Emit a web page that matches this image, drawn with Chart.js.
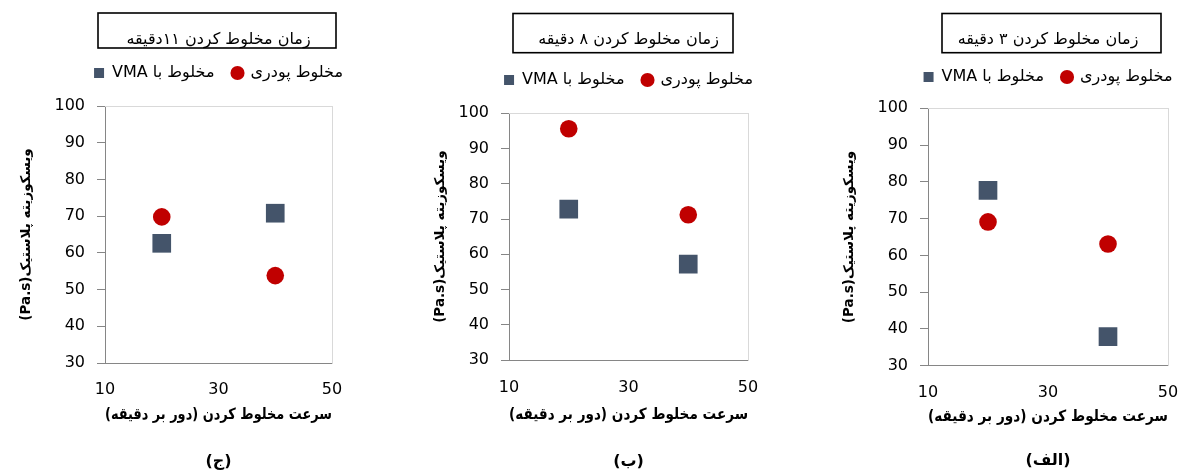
<!DOCTYPE html>
<html lang="fa">
<head>
<meta charset="utf-8">
<script src="https://cdn.jsdelivr.net/npm/chart.js@4.4.1/dist/chart.umd.min.js"></script>
<style>
html, body { margin:0; padding:0; background:#fff; width:1180px; height:472px; overflow:hidden; position:relative; }
canvas { position:absolute; top:0; direction: rtl; }
</style>
</head>
<body>
<canvas id="c11" width="437" height="472" style="left:0px"></canvas>
<canvas id="c8" width="457" height="472" style="left:400px"></canvas>
<canvas id="c3" width="480" height="472" style="left:808px"></canvas>
<script>
// ---- data ----
const speeds = [20, 40];
const xTickValues = [10, 30, 50];
const yTickValues = [30, 40, 50, 60, 70, 80, 90, 100];
const vma3 = [77.7, 37.9];
const powder3 = [69.1, 63.1];
const vma8 = [72.8, 57.2];
const powder8 = [95.6, 71.2];
const vma11 = [62.6, 70.8];
const powder11 = [69.8, 53.8];
const seriesNames = ['مخلوط با VMA', 'مخلوط پودری'];
const titles = ['زمان مخلوط کردن ۱۱دقیقه', 'زمان مخلوط کردن ۸ دقیقه', 'زمان مخلوط کردن ۳ دقیقه'];
const panelLabels = ['(ج)', '(ب)', '(الف)'];
const xTitle = 'سرعت مخلوط کردن (دور بر دقیقه)';
const yTitle = 'ویسکوزیته پلاستیک(Pa.s)';

Chart.defaults.font.family = "'DejaVu Sans', sans-serif";
Chart.defaults.color = '#000';

const X_TICK_LH = 16 * 1.2;
const X_TITLE_LH = 15.5 * 1.2;

const titleBoxPlugin = {
  id: 'titleBox',
  afterDraw(chart, args, opts) {
    const tb = chart.titleBlock;
    if (!tb) return;
    const cx = (tb.left + tb.right) / 2 + (opts.dx || 0);
    const ctx = chart.ctx;
    ctx.save();
    ctx.strokeStyle = '#000';
    ctx.lineWidth = 1.6;
    ctx.strokeRect(cx - opts.width / 2, opts.top, opts.width, opts.bottom - opts.top);
    ctx.restore();
  }
};

function pts(arr) { return speeds.map((x, i) => ({ x: x, y: arr[i] })); }

function makeChart(id, vma, powder, title, label, P) {
  return new Chart(document.getElementById(id), {
    type: 'scatter',
    data: {
      datasets: [
        { label: seriesNames[0], data: pts(vma), pointStyle: 'rect', pointRadius: 13.2,
          backgroundColor: '#44546A', borderColor: '#44546A', borderWidth: 0 },
        { label: seriesNames[1], data: pts(powder), pointStyle: 'circle', pointRadius: 8.8,
          backgroundColor: '#C00000', borderColor: '#C00000', borderWidth: 0 }
      ]
    },
    options: {
      responsive: false,
      animation: false,
      events: [],
      layout: { padding: 0 },
      scales: {
        x: {
          type: 'linear', position: 'bottom', min: 10, max: 50,
          afterBuildTicks: s => { s.ticks = xTickValues.map(v => ({ value: v })); },
          afterFit: s => { s.height = P.xTickPad + X_TICK_LH + P.xTitlePadTop + X_TITLE_LH + 4; },
          ticks: { font: { size: 16 }, color: '#000', padding: P.xTickPad, maxRotation: 0, autoSkip: false },
          grid: { drawOnChartArea: false, drawTicks: false, color: '#868686' },
          border: { color: '#868686', width: 1 },
          title: { display: true, text: xTitle, font: { size: 15.5, weight: 'bold' }, color: '#000',
                   padding: { top: P.xTitlePadTop, bottom: 4 } }
        },
        y: {
          type: 'linear', position: 'left', min: 30, max: 100,
          afterBuildTicks: s => { s.ticks = yTickValues.map(v => ({ value: v })); },
          afterFit: s => { s.width = P.yAxisW; },
          ticks: { font: { size: 16 }, color: '#000', padding: 12 },
          grid: { drawOnChartArea: false, drawTicks: true, tickLength: 8, color: '#868686' },
          border: { color: '#868686', width: 1 },
          title: { display: true, text: yTitle, font: { size: 13.5, weight: 'bold' }, color: '#000',
                   padding: { top: P.yTitlePad, bottom: 0 } }
        },
        x2: {
          type: 'linear', position: 'top',
          ticks: { display: false },
          grid: { drawOnChartArea: false, drawTicks: false },
          border: { color: '#D9D9D9', width: 1 },
          afterFit: s => { s.height = P.x2H; }
        },
        y2: {
          type: 'linear', position: 'right',
          ticks: { display: false },
          grid: { drawOnChartArea: false, drawTicks: false },
          border: { color: '#D9D9D9', width: 1 },
          afterFit: s => { s.width = P.yAxisW; }
        }
      },
      plugins: {
        tooltip: { enabled: false },
        title: { display: true, text: title, font: { size: 16, weight: 'normal' }, color: '#000',
                 padding: { top: 30.4, bottom: P.titlePadBot } },
        legend: { display: true, position: 'top',
                  labels: { usePointStyle: true, boxHeight: 10, boxWidth: 10, font: { size: 16 }, color: '#000', padding: 18 } },
        subtitle: { display: true, position: 'bottom', text: label, font: { size: 16, weight: 'bold' }, color: '#000',
                    padding: { top: P.subPadTop, bottom: P.subPadBot } },
        titleBox: { width: P.boxW, top: P.boxTop, bottom: P.boxBottom, dx: P.boxDx }
      }
    },
    plugins: [titleBoxPlugin]
  });
}

makeChart('c11', vma11, powder11, titles[0], panelLabels[0], {
  yAxisW: 105, yTitlePad: 18.5, titlePadBot: -2.6, x2H: 15,
  xTickPad: 17.4, xTitlePadTop: 6.1, subPadTop: 23.8, subPadBot: 0.7,
  boxW: 238, boxTop: 13, boxBottom: 48, boxDx: -1.5
});
makeChart('c8', vma8, powder8, titles[1], panelLabels[1], {
  yAxisW: 109, yTitlePad: 32, titlePadBot: 4.4, x2H: 15.3,
  xTickPad: 18.7, xTitlePadTop: 7.8, subPadTop: 23.8, subPadBot: 0.7,
  boxW: 220, boxTop: 13.5, boxBottom: 52.7, boxDx: -5.5
});
makeChart('c3', vma3, powder3, titles[2], panelLabels[2], {
  yAxisW: 120, yTitlePad: 33, titlePadBot: 1.4, x2H: 13.3,
  xTickPad: 18, xTitlePadTop: 4.5, subPadTop: 21.1, subPadBot: 1.7,
  boxW: 219, boxTop: 13.5, boxBottom: 52.7, boxDx: 3.5
});
</script>
</body>
</html>
